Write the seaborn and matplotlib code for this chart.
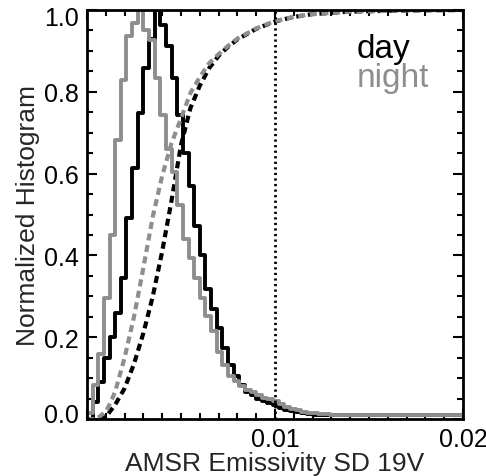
import numpy as np
import pandas as pd
import matplotlib
matplotlib.use("Agg")
import matplotlib.pyplot as plt
import matplotlib.transforms as mtransforms
from matplotlib.ticker import MultipleLocator, FixedLocator, FixedFormatter, FormatStrFormatter
import seaborn as sns

sns.set_style("ticks")
plt.rcParams["font.family"] = ["Liberation Sans", "DejaVu Sans"]

# histogram bins of 0.0003 in emissivity SD, heights normalised to peak
bin_width = 0.0003
day = [0.0, 0.042, 0.091, 0.148, 0.201, 0.258, 0.344, 0.491, 0.613, 0.748, 0.858, 0.93, 1.0,
       0.963, 0.912, 0.834, 0.743, 0.65, 0.569, 0.471, 0.4, 0.319, 0.27, 0.222, 0.173,
       0.131, 0.106, 0.082, 0.067, 0.058, 0.05,
       0.045, 0.04, 0.034, 0.028, 0.023, 0.019, 0.016, 0.014, 0.012, 0.011, 0.01, 0.01,
       0.009, 0.009, 0.009, 0.009, 0.009, 0.009, 0.009, 0.009, 0.009, 0.009, 0.009, 0.009,
       0.009, 0.009, 0.009, 0.009, 0.009, 0.009, 0.009, 0.009, 0.009, 0.009, 0.009, 0.009]
night = [0.015, 0.082, 0.16, 0.295, 0.449, 0.682, 0.829, 0.936, 0.967, 1.0,
         0.951, 0.927, 0.833, 0.743, 0.66, 0.603,
         0.523, 0.441, 0.393, 0.344, 0.295, 0.253, 0.214, 0.165, 0.131, 0.106, 0.092,
         0.08, 0.072, 0.065, 0.058, 0.052, 0.048, 0.043, 0.036, 0.03, 0.025, 0.021, 0.018,
         0.015, 0.014, 0.013, 0.012,
         0.011, 0.011, 0.011, 0.011, 0.011, 0.011, 0.011,
         0.01, 0.01, 0.01, 0.01, 0.01, 0.01, 0.01, 0.01, 0.01, 0.01, 0.01,
         0.01, 0.01, 0.01, 0.01, 0.01, 0.01]

# cumulative fractions (dashed curves)
cdf_x = [0, 0.0005, 0.001, 0.00125, 0.0015, 0.002, 0.0025, 0.003, 0.0035, 0.004, 0.0045,
         0.005, 0.0055, 0.006, 0.0065, 0.007, 0.0075, 0.008, 0.009, 0.01, 0.011, 0.012,
         0.014, 0.017, 0.02]
day_cdf = [0, 0, 0.005, 0.02, 0.035, 0.075, 0.135, 0.21, 0.3, 0.41, 0.535, 0.67, 0.76,
           0.815, 0.858, 0.888, 0.91, 0.928, 0.954, 0.972, 0.983, 0.99, 0.996, 0.999, 1.0]
night_cdf = [0, 0, 0.018, 0.04, 0.067, 0.15, 0.25, 0.37, 0.495, 0.595, 0.675, 0.735, 0.797,
             0.836, 0.87, 0.892, 0.912, 0.93, 0.955, 0.973, 0.983, 0.99, 0.996, 0.999, 1.0]
threshold = 0.01

edges = np.arange(len(day) + 1) * bin_width
centers = edges[:-1] + bin_width / 2

black = "black"
grey = "#8e8e8e"

fig = plt.figure(figsize=(4.86, 4.77), dpi=100)
ax = fig.add_axes([87 / 486, 57 / 477, 376 / 486, 409 / 477])

for vals, cum, col in [(day, day_cdf, black), (night, night_cdf, grey)]:
    df = pd.DataFrame({"sd": centers, "w": vals})
    sns.histplot(data=df, x="sd", weights="w", bins=edges.tolist(), element="step",
                 fill=False, color=col, lw=2.8, ax=ax)
    cdf = pd.DataFrame({"sd": cdf_x, "cum": cum})
    sns.lineplot(data=cdf, x="sd", y="cum", color=col, lw=3, ax=ax,
                 linestyle=(0, (1.7, 1.1)))

ax.axvline(threshold, color="black", lw=2, linestyle=(0, (0.8, 1.2)))

ax.set_xlim(0, 0.02)
ax.set_ylim(0, 1.0)
ax.xaxis.set_major_locator(FixedLocator([0, 0.01, 0.02]))
ax.xaxis.set_major_formatter(FixedFormatter(["", "0.01", "0.02"]))
ax.xaxis.set_minor_locator(MultipleLocator(0.001))
ax.yaxis.set_major_locator(FixedLocator([0, 0.2, 0.4, 0.6, 0.8, 1.0]))
ax.yaxis.set_minor_locator(MultipleLocator(0.05))
ax.yaxis.set_major_formatter(FormatStrFormatter("%.1f"))

ax.tick_params(which="both", direction="in", top=True, right=True, width=1.5,
               labelsize=18, colors="black")
ax.tick_params(which="major", length=7.5, pad=6)
ax.tick_params(which="minor", length=4.5)
for sp in ax.spines.values():
    sp.set_linewidth(2)
    sp.set_color("black")

# end labels sit a little inside the axis range, as in the original
yticks = ax.yaxis.get_major_ticks()
lab0 = yticks[0].label1
lab0.set_transform(lab0.get_transform() + mtransforms.ScaledTranslation(0, 0.06, fig.dpi_scale_trans))
lab1 = yticks[-1].label1
lab1.set_transform(lab1.get_transform() + mtransforms.ScaledTranslation(0, -0.05, fig.dpi_scale_trans))

ax.set_xlabel("AMSR Emissivity SD 19V", fontsize=19, labelpad=0)
ax.set_ylabel("Normalized Histogram", fontsize=19, labelpad=3)

ax.text(0.718, 0.885, "day", transform=ax.transAxes, fontsize=24, color=black,
        ha="left", va="baseline")
ax.text(0.718, 0.815, "night", transform=ax.transAxes, fontsize=24, color=grey,
        ha="left", va="baseline")

fig.savefig("out.png", dpi=100)
